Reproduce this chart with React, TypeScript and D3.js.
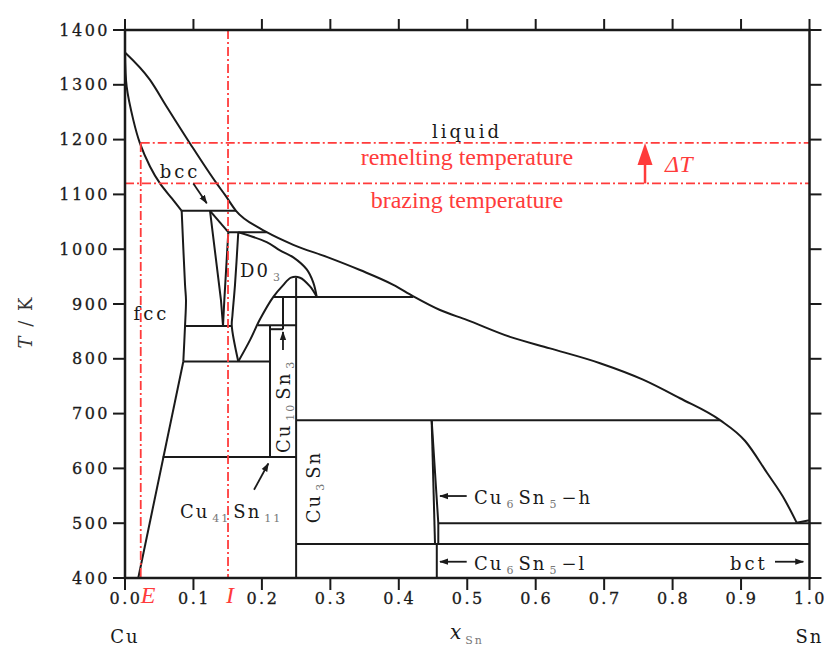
import * as d3 from "d3";

type Pt = [number, number];

const W = 826;
const H = 646;

// axes
const X_TICKS = [0, 0.1, 0.2, 0.3, 0.4, 0.5, 0.6, 0.7, 0.8, 0.9, 1.0];
const T_TICKS = [400, 500, 600, 700, 800, 900, 1000, 1100, 1200, 1300, 1400];

// phase boundaries as [x_Sn, T/K]
const liquidus: Pt[] = [
  [0, 1359], [0.0365, 1309], [0.0609, 1260], [0.095, 1193], [0.1339, 1120],
  [0.1461, 1099], [0.1622, 1070], [0.1972, 1038], [0.207, 1031], [0.2459, 1008],
  [0.2947, 986], [0.3433, 962], [0.392, 935], [0.4212, 914], [0.4602, 889],
  [0.4992, 871], [0.5625, 840], [0.6209, 819], [0.694, 792], [0.7568, 762],
  [0.8108, 728], [0.8693, 688], [0.906, 650], [0.9379, 592], [0.9642, 542],
  [0.9813, 501],
];
const fccSolidus: Pt[] = [
  [0, 1359], [0.0025, 1296], [0.0121, 1236], [0.0219, 1193], [0.0365, 1151],
  [0.0511, 1120], [0.0682, 1093], [0.0828, 1070],
];
const fccSolvusHigh: Pt[] = [
  [0.0828, 1070], [0.0877, 935], [0.0891, 907], [0.0877, 860], [0.0852, 795],
];
const fccSolvusLow: Pt[] = [[0.0852, 795], [0.0194, 400]];
const betaLeft: Pt[] = [[0.1242, 1070], [0.1402, 907], [0.1432, 860]];
const betaRight: Pt[] = [[0.1509, 1031], [0.1451, 907], [0.1432, 860]];
const betaSolidus: Pt[] = [[0.1242, 1070], [0.1509, 1031]];
const gammaSolidus: Pt[] = [
  [0.1655, 1031], [0.207, 1013], [0.2264, 998], [0.2459, 985], [0.2655, 963],
  [0.2751, 939], [0.2801, 913],
];
const gammaLeft: Pt[] = [[0.1655, 1031], [0.1607, 935], [0.157, 880], [0.156, 860], [0.1655, 795]];
const gammaDome: Pt[] = [
  [0.1655, 795], [0.1826, 834], [0.1972, 872], [0.2167, 913], [0.2308, 934],
  [0.2425, 948], [0.2557, 948], [0.2703, 932], [0.2801, 913],
];
const etaLeft: Pt[] = [[0.448, 688], [0.4529, 462]];
const etaRight: Pt[] = [[0.448, 688], [0.4577, 500], [0.4577, 462]];
const snEnd: Pt[] = [[0.9813, 501], [0.998, 505], [1, 505]];

// invariant horizontals [x0, x1, T]
const invariants: [number, number, number][] = [
  [0.0828, 0.1622, 1070],
  [0.1509, 0.207, 1031],
  [0.0877, 0.156, 860],
  [0.0852, 0.2118, 795],
  [0.0551, 0.25, 621],
  [0.2167, 0.4212, 913],
  [0.1943, 0.25, 861],
  [0.2118, 0.2308, 854],
  [0.25, 0.8693, 688],
  [0.4577, 1.0, 500],
  [0.25, 1.0, 462],
];
// compound verticals [x, T0, T1]
const compounds: [number, number, number][] = [
  [0.25, 400, 948],
  [0.2308, 854, 913],
  [0.2118, 621, 861],
  [0.4555, 400, 462],
];

// brazing annotation
const remeltingT = 1194;
const brazingT = 1120;
const xE = 0.023;
const xI = 0.1505;
const deltaArrowX = 0.7597;

// labels
const plainLabels: { text: string; x: number; T: number; anchor: string }[] = [
  { text: "liquid", x: 0.4996, T: 1203, anchor: "middle" },
  { text: "bcc", x: 0.0804, T: 1130, anchor: "middle" },
  { text: "fcc", x: 0.0387, T: 871, anchor: "middle" },
  { text: "bct", x: 0.8839, T: 414.6, anchor: "start" },
];
type Part = [string, boolean];
const formulas: { parts: Part[]; x: number; T: number; rotate: boolean }[] = [
  { parts: [["D0", false], ["3", true]], x: 0.168, T: 950, rotate: false },
  { parts: [["Cu", false], ["41", true], ["Sn", false], ["11", true]], x: 0.0803, T: 509.5, rotate: false },
  { parts: [["Cu", false], ["6", true], ["Sn", false], ["5", true], ["\u2212h", false]], x: 0.51, T: 535, rotate: false },
  { parts: [["Cu", false], ["6", true], ["Sn", false], ["5", true], ["\u2212l", false]], x: 0.51, T: 414.6, rotate: false },
  { parts: [["Cu", false], ["10", true], ["Sn", false], ["3", true]], x: 0.241, T: 628, rotate: true },
  { parts: [["Cu", false], ["3", true], ["Sn", false]], x: 0.2856, T: 500, rotate: true },
];
// black arrows [x0, T0, x1, T1] (head at the second point)
const arrows: [number, number, number, number][] = [
  [0.0998, 1120, 0.1194, 1084],
  [0.2308, 816, 0.2308, 849],
  [0.1885, 561, 0.2094, 609],
  [0.4992, 549.6, 0.4602, 549.6],
  [0.4992, 429.7, 0.4602, 429.7],
  [0.9496, 429.7, 0.991, 429.7],
];

const RED = "#ff3b3b";
const INK = "#1a1a1a";
const SERIF = "DejaVu Serif, serif";
const TIMES = "Liberation Serif, Times New Roman, serif";

const x = d3.scaleLinear().domain([0, 1]).range([125, 809.5]);
const y = d3.scaleLinear().domain([400, 1400]).range([578, 30]);

const smooth = d3
  .line<Pt>()
  .x((d) => x(d[0]))
  .y((d) => y(d[1]))
  .curve(d3.curveCatmullRom.alpha(0.5));
const monotone = d3
  .line<Pt>()
  .x((d) => x(d[0]))
  .y((d) => y(d[1]))
  .curve(d3.curveMonotoneX);
const straight = d3
  .line<Pt>()
  .x((d) => x(d[0]))
  .y((d) => y(d[1]));

function Formula({ parts, px, py, rotate }: { parts: Part[]; px: number; py: number; rotate: boolean }) {
  return (
    <text
      x={px}
      y={py}
      transform={rotate ? `rotate(-90 ${px} ${py})` : undefined}
      fontFamily={SERIF}
      fontSize={18}
      letterSpacing={2}
      fill={INK}
    >
      {parts.map(([t, sub], i) => {
        const prevSub = i > 0 && parts[i - 1][1];
        const dy = sub && !prevSub ? 4 : !sub && prevSub ? -4 : 0;
        return (
          <tspan
            key={i}
            dx={i > 0 ? 3 : 0}
            dy={dy}
            fontSize={sub ? 11 : 18}
            fill={sub ? "#777" : INK}
          >
            {t}
          </tspan>
        );
      })}
    </text>
  );
}

export default function App() {
  const x0 = x(0);
  const x1 = x(1);
  const yTop = y(1400);
  const yBot = y(400);
  const dash = "9 3 2 3";

  return (
    <svg
      width={W}
      height={H}
      style={{ position: "absolute", left: 0, top: 0, background: "#fff" }}
    >
      <defs>
        <marker id="ah" viewBox="0 0 10 10" refX="9" refY="5" markerWidth="9" markerHeight="9" orient="auto" markerUnits="userSpaceOnUse">
          <path d="M0,1.5 L10,5 L0,8.5 z" fill={INK} />
        </marker>
      </defs>

      {/* phase boundaries */}
      <g fill="none" stroke={INK} strokeWidth={2} strokeLinejoin="round">
        <path d={monotone(liquidus) ?? ""} />
        {[fccSolidus, fccSolvusHigh, gammaSolidus, gammaDome, gammaLeft].map((d, i) => (
          <path key={"s" + i} d={smooth(d) ?? ""} />
        ))}
        {[fccSolvusLow, betaLeft, betaRight, betaSolidus, etaLeft, etaRight, snEnd].map((d, i) => (
          <path key={"l" + i} d={straight(d) ?? ""} />
        ))}
        {invariants.map(([a, b, t], i) => (
          <line key={"h" + i} x1={x(a)} x2={x(b)} y1={y(t)} y2={y(t)} />
        ))}
        {compounds.map(([c, t0, t1], i) => (
          <line key={"v" + i} x1={x(c)} x2={x(c)} y1={y(t0)} y2={y(t1)} />
        ))}
      </g>

      {/* red brazing annotations */}
      <g stroke={RED} strokeWidth={1.8} fill="none" strokeDasharray={dash}>
        <line x1={x(xE)} x2={x1} y1={y(remeltingT)} y2={y(remeltingT)} />
        <line x1={x0} x2={x1} y1={y(brazingT)} y2={y(brazingT)} />
        <line x1={x(xE)} x2={x(xE)} y1={y(remeltingT)} y2={yBot} />
        <line x1={x(xI)} x2={x(xI)} y1={yTop} y2={yBot} />
      </g>
      <line
        x1={x(deltaArrowX)}
        x2={x(deltaArrowX)}
        y1={y(brazingT)}
        y2={y(remeltingT) + 18}
        stroke={RED}
        strokeWidth={2.5}
      />
      <path
        d={`M${x(deltaArrowX)},${y(remeltingT)} l-7.5,22 l15,0 z`}
        fill={RED}
      />
      <g fill={RED} fontFamily={TIMES} fontSize={24}>
        <text x={x(0.4996)} y={y(1153.6)} textAnchor="middle">remelting temperature</text>
        <text x={x(0.4996)} y={y(1074.7)} textAnchor="middle">brazing temperature</text>
        <text x={x(0.789)} y={y(1141)} fontStyle="italic">{"\u0394T"}</text>
        <text x={x(xE)} y={603} fontStyle="italic">E</text>
        <text x={x(xI) - 2} y={603} fontStyle="italic">I</text>
      </g>

      {/* arrows */}
      <g stroke={INK} strokeWidth={1.8}>
        {arrows.map(([a, ta, b, tb], i) => (
          <line key={i} x1={x(a)} y1={y(ta)} x2={x(b)} y2={y(tb)} markerEnd="url(#ah)" />
        ))}
      </g>

      {/* phase labels */}
      <g fontFamily={SERIF} fontSize={18} letterSpacing={3} fill={INK}>
        {plainLabels.map((l, i) => (
          <text key={i} x={x(l.x)} y={y(l.T)} textAnchor={l.anchor}>
            {l.text}
          </text>
        ))}
      </g>
      {formulas.map((f, i) => (
        <Formula key={i} parts={f.parts} px={x(f.x)} py={y(f.T)} rotate={f.rotate} />
      ))}

      {/* frame and ticks */}
      <rect x={x0} y={yTop} width={x1 - x0} height={yBot - yTop} fill="none" stroke={INK} strokeWidth={2.5} />
      <g stroke={INK} strokeWidth={2}>
        {X_TICKS.map((t) => (
          <g key={"xt" + t}>
            <line x1={x(t)} x2={x(t)} y1={yBot} y2={yBot + 12} />
            <line x1={x(t)} x2={x(t)} y1={yTop} y2={yTop - 11} />
          </g>
        ))}
        {T_TICKS.map((t) => (
          <g key={"yt" + t}>
            <line x1={x0} x2={x0 - 12} y1={y(t)} y2={y(t)} />
            <line x1={x1} x2={x1 + 12} y1={y(t)} y2={y(t)} />
          </g>
        ))}
      </g>
      <g fontFamily={SERIF} fontSize={16} letterSpacing={2.5} fill={INK} stroke={INK} strokeWidth={0.3}>
        {X_TICKS.map((t) => (
          <text key={"xl" + t} x={x(t) + 1} y={604} textAnchor="middle">
            {d3.format(".1f")(t)}
          </text>
        ))}
        {T_TICKS.map((t) => (
          <text key={"yl" + t} x={110} y={y(t)} textAnchor="end" dominantBaseline="central">
            {t}
          </text>
        ))}
      </g>

      {/* axis titles */}
      <g fontFamily={SERIF} fontSize={18} fill={INK} letterSpacing={2}>
        <text x={x0} y={643} textAnchor="middle">Cu</text>
        <text x={x1} y={643} textAnchor="middle">Sn</text>
        <text x={450} y={639}>
          <tspan fontStyle="italic" fontSize={20}>x</tspan>
          <tspan fontSize={11} dy={5} dx={2} fill="#777">Sn</tspan>
        </text>
        <text x={32} y={322} transform="rotate(-90 32 322)" textAnchor="middle" fill="#333">
          <tspan fontStyle="italic">T</tspan>
          <tspan> / K</tspan>
        </text>
      </g>
    </svg>
  );
}
